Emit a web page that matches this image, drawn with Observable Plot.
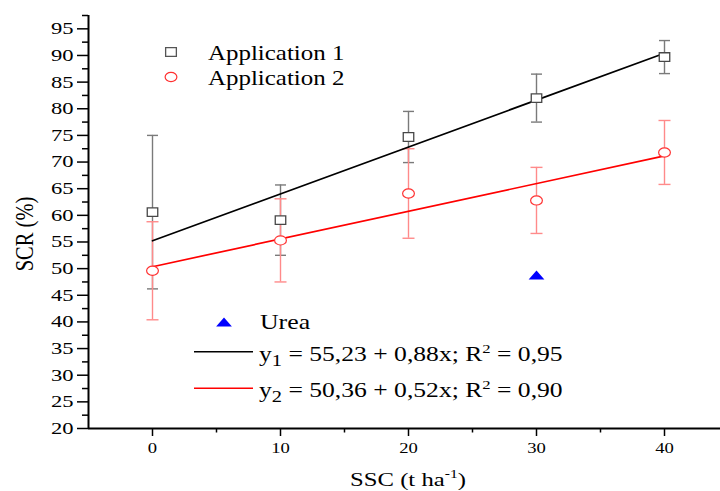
<!DOCTYPE html>
<html><head><meta charset="utf-8">
<script src="https://cdn.jsdelivr.net/npm/d3@7"></script>
<script src="https://cdn.jsdelivr.net/npm/@observablehq/plot@0.6"></script>
<style>
body{margin:0;background:#fff}
svg{font-family:"Liberation Serif","Times New Roman",serif}
</style></head><body><div id="chart"></div>
<script>
// ---- data ----
const ssc = [0, 10, 20, 30, 40];
const app1Mean = [60.6, 59.1, 74.7, 82.0, 89.7];
const app1Err  = [14.4, 6.6, 4.8, 4.5, 3.1];
const app2Mean = [49.6, 55.3, 64.1, 62.8, 71.8];
const app2Err  = [9.2, 7.8, 8.4, 6.2, 6.0];
const ureaX = [30];
const ureaY = [48.8];
const fitX = [0, 40];
const fit1 = [55.23, 90.43];   // y1 = 55,23 + 0,88x
const fit2 = [50.36, 71.16];   // y2 = 50,36 + 0,52x
const yTicks = [20, 25, 30, 35, 40, 45, 50, 55, 60, 65, 70, 75, 80, 85, 90, 95];
const yMinor = [22.5, 27.5, 32.5, 37.5, 42.5, 47.5, 52.5, 57.5, 62.5, 67.5, 72.5, 77.5, 82.5, 87.5, 92.5, 97.5];
const xTicks = [0, 10, 20, 30, 40];
const xMinor = [5, 15, 25, 35];
const legend1 = ["Application 1", "Application 2"];
const eq1 = ["y", "1", " = 55,23 + 0,88x; R", "2", " = 0,95"];
const eq2 = ["y", "2", " = 50,36 + 0,52x; R", "2", " = 0,90"];

const app1 = ssc.map((x, i) => ({x, y: app1Mean[i], lo: app1Mean[i] - app1Err[i], hi: app1Mean[i] + app1Err[i]}));
const app2 = ssc.map((x, i) => ({x, y: app2Mean[i], lo: app2Mean[i] - app2Err[i], hi: app2Mean[i] + app2Err[i]}));
const urea = ureaX.map((x, i) => ({x, y: ureaY[i]}));
const fitA = fitX.map((x, i) => ({x, y: fit1[i]}));
const fitB = fitX.map((x, i) => ({x, y: fit2[i]}));

// ---- horizontally stretched symbols (reference image is stretched) ----
const sr = s => Math.sqrt(s / Math.PI);
const squareSym = {draw(c, s){ const r = sr(s), w = r * 1.22; c.moveTo(-w,-r); c.lineTo(w,-r); c.lineTo(w,r); c.lineTo(-w,r); c.closePath(); }};
const ellipseSym = {draw(c, s){ const ry = sr(s), rx = ry * 1.28, k = 0.5523;
  c.moveTo(rx,0); c.bezierCurveTo(rx,ry*k,rx*k,ry,0,ry); c.bezierCurveTo(-rx*k,ry,-rx,ry*k,-rx,0);
  c.bezierCurveTo(-rx,-ry*k,-rx*k,-ry,0,-ry); c.bezierCurveTo(rx*k,-ry,rx,-ry*k,rx,0); c.closePath(); }};
const triSym = {draw(c, s){ const h = sr(s) * 2, w = h * 1.75; c.moveTo(0,-h/2); c.lineTo(w/2,h/2); c.lineTo(-w/2,h/2); c.closePath(); }};
const capSym = {draw(c, s){ const r = sr(s); c.moveTo(-r,0); c.lineTo(r,0); }};

const GRAY = "#7a7a7a", PINK = "#ff8a8a", SQ = "#474747", RED = "#ff3030";

const plot = Plot.plot({
  width: 720, height: 491,
  marginLeft: 88, marginRight: 0, marginTop: 15, marginBottom: 63,
  x: {domain: [-5, 44.375], label: null},
  y: {domain: [20, 97.5], label: null},
  style: {background: "white", fontFamily: "Liberation Serif, Times New Roman, serif"},
  marks: [
    Plot.ruleX(app1, {x: "x", y1: "lo", y2: "hi", stroke: GRAY, strokeWidth: 1.4}),
    Plot.dot(app1, {x: "x", y: "hi", symbol: capSym, r: 5.5, stroke: GRAY, fill: "none", strokeWidth: 1.4}),
    Plot.dot(app1, {x: "x", y: "lo", symbol: capSym, r: 5.5, stroke: GRAY, fill: "none", strokeWidth: 1.4}),
    Plot.ruleX(app2, {x: "x", y1: "lo", y2: "hi", stroke: PINK, strokeWidth: 1.4}),
    Plot.dot(app2, {x: "x", y: "hi", symbol: capSym, r: 6, stroke: PINK, fill: "none", strokeWidth: 1.4}),
    Plot.dot(app2, {x: "x", y: "lo", symbol: capSym, r: 6, stroke: PINK, fill: "none", strokeWidth: 1.4}),
    Plot.line(fitA, {x: "x", y: "y", stroke: "#000", strokeWidth: 1.7}),
    Plot.line(fitB, {x: "x", y: "y", stroke: "#ff0000", strokeWidth: 1.7}),
    Plot.dot(app1, {x: "x", y: "y", symbol: squareSym, r: 4.3, stroke: SQ, fill: "white", strokeWidth: 1.3}),
    Plot.dot(app2, {x: "x", y: "y", symbol: ellipseSym, r: 4.6, stroke: RED, fill: "white", strokeWidth: 1.2}),
    Plot.dot(urea, {x: "x", y: "y", symbol: triSym, r: 4.5, fill: "#0000ff", stroke: "none"}),
    Plot.axisY(yTicks, {tickSize: 11, tickPadding: 4, fontSize: 17, strokeWidth: 1.5, label: null, tickFormat: d => d}),
    Plot.axisY(yMinor, {tickSize: 6, strokeWidth: 1.5, label: null, tickFormat: () => ""}),
    Plot.axisX(xTicks, {tickSize: 8, tickPadding: 5, fontSize: 15.5, strokeWidth: 1.5, label: null, tickFormat: d => d}),
    Plot.axisX(xMinor, {tickSize: 4.5, strokeWidth: 1.5, label: null, tickFormat: () => ""}),
    Plot.ruleX([-5], {strokeWidth: 2}),
    Plot.ruleY([20], {strokeWidth: 2})
  ]
});
document.getElementById("chart").appendChild(plot);

const svg = d3.select(plot);
const NS = "http://www.w3.org/2000/svg";
function stretch(textEl, f) {
  const parent = textEl.parentNode;
  const g = document.createElementNS(NS, "g");
  parent.insertBefore(g, textEl);
  g.appendChild(textEl);
  const b = g.getBBox();
  const anchor = getComputedStyle(textEl).textAnchor;
  const ax = anchor === "middle" ? b.x + b.width / 2 : anchor === "end" ? b.x + b.width : b.x;
  g.setAttribute("transform", `translate(${ax},0) scale(${f},1) translate(${-ax},0)`);
}
plot.querySelectorAll('g[aria-label="y-axis tick label"] text').forEach(t => stretch(t, 1.33));
plot.querySelectorAll('g[aria-label="x-axis tick label"] text').forEach(t => stretch(t, 1.2));

// ---- legend (layout, pixel positions) ----
const leg = svg.append("g").attr("font-family", "Liberation Serif, Times New Roman, serif")
  .attr("fill", "#000").attr("text-anchor", "start");
leg.append("path").attr("d", d3.symbol(squareSym, Math.PI * 4.4 * 4.4)()).attr("transform", "translate(171,52)")
  .attr("fill", "white").attr("stroke", "#555").attr("stroke-width", 1.3);
leg.append("path").attr("d", d3.symbol(ellipseSym, Math.PI * 4.6 * 4.6)()).attr("transform", "translate(171,77)")
  .attr("fill", "white").attr("stroke", RED).attr("stroke-width", 1.2);
const la = leg.append("text").attr("x", 208).attr("y", 60).attr("font-size", 21.5).text(legend1[0]);
const lb = leg.append("text").attr("x", 208).attr("y", 85).attr("font-size", 21.5).text(legend1[1]);
leg.append("path").attr("d", d3.symbol(triSym, Math.PI * 4.5 * 4.5)()).attr("transform", "translate(224,322)").attr("fill", "#0000ff");
const lu = leg.append("text").attr("x", 260).attr("y", 329).attr("font-size", 20).text("Urea");
leg.append("line").attr("x1", 194).attr("x2", 253).attr("y1", 351.7).attr("y2", 351.7).attr("stroke", "#000").attr("stroke-width", 1.6);
leg.append("line").attr("x1", 194).attr("x2", 253).attr("y1", 388.3).attr("y2", 388.3).attr("stroke", "#ff0000").attr("stroke-width", 1.6);
function eq(parts, y) {
  const t = leg.append("text").attr("x", 259).attr("y", y).attr("font-size", 20);
  t.append("tspan").text(parts[0]);
  t.append("tspan").attr("font-size", 16).attr("dy", 5).text(parts[1]);
  t.append("tspan").attr("dy", -5).text(parts[2]);
  t.append("tspan").attr("font-size", 13).attr("dy", -8).text(parts[3]);
  t.append("tspan").attr("dy", 8).text(parts[4]);
  return t;
}
const e1 = eq(eq1, 361), e2 = eq(eq2, 397);
// axis titles
const xl = leg.append("text").attr("x", 408).attr("y", 486).attr("font-size", 19).attr("text-anchor", "middle");
xl.append("tspan").text("SSC (t ha");
xl.append("tspan").attr("font-size", 12).attr("dy", -8).text("-1");
xl.append("tspan").attr("dy", 8).text(")");
const yl = leg.append("text").attr("transform", "translate(33,234) rotate(-90)").attr("font-size", 20.5).attr("text-anchor", "middle").text("SCR (%)");

stretch(la.node(), 1.16); stretch(lb.node(), 1.16);
stretch(lu.node(), 1.29);
stretch(e1.node(), 1.28); stretch(e2.node(), 1.28);
stretch(xl.node(), 1.3);
// rotated label: widen on screen about its baseline x
(function(){ const n = yl.node(); const g = document.createElementNS(NS, "g"); n.parentNode.insertBefore(g, n); g.appendChild(n);
  g.setAttribute("transform", "translate(33,0) scale(1.22,1) translate(-33,0)"); })();
</script></body></html>
